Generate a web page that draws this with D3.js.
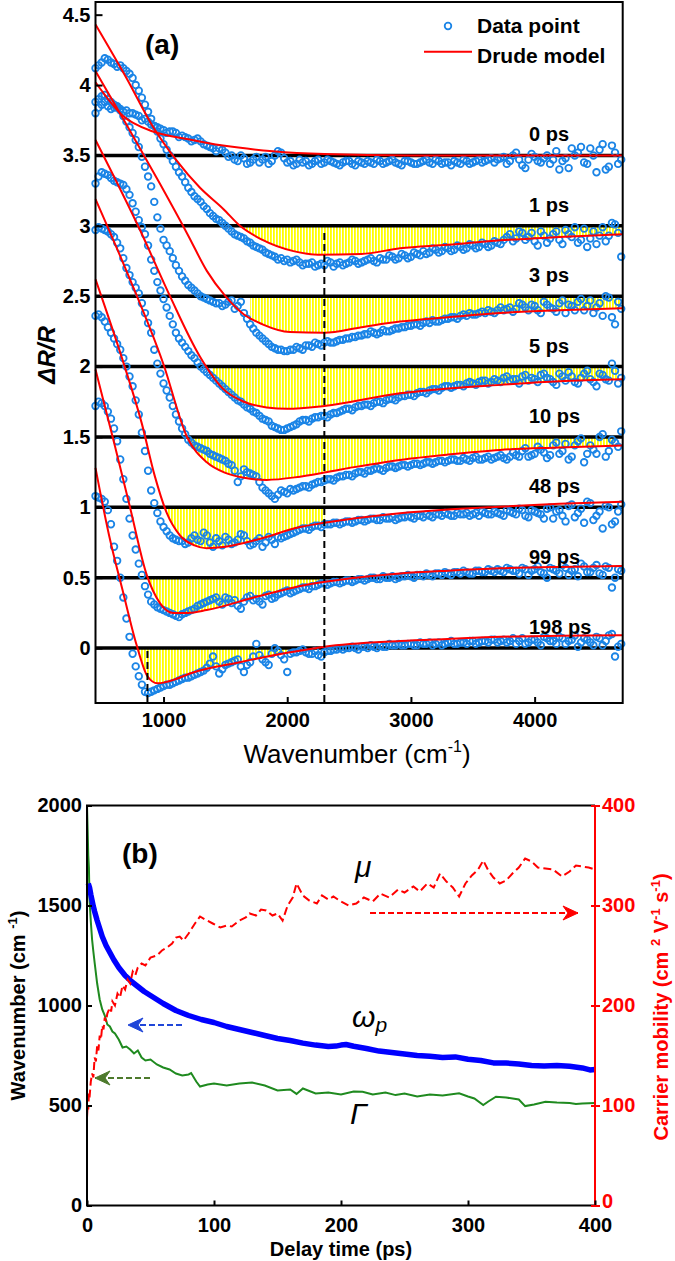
<!DOCTYPE html>
<html><head><meta charset="utf-8">
<script src="https://cdn.jsdelivr.net/npm/d3@7"></script>
<style>
body{margin:0;background:#fff}
svg{display:block}
text{font-family:"Liberation Sans",Arial,sans-serif}
</style>
</head><body>
<svg id="c" width="675" height="1261"></svg>
<script>
// ---------------- DATA: panel (a) ----------------
const wavenumbers = [450,500,550,600,650,700,750,800,850,900,950,1000,1050,1100,1150,1200,1250,1300,1350,1400,1450,1500,1550,1600,1650,1700,1750,1800,1850,1900,1950,2000,2050,2100,2150,2200,2250,2300,2350,2400,2450,2500,2550,2600,2650,2700,2750,2800,2850,2900,2950,3000,3050,3100,3150,3200,3250,3300,3350,3400,3450,3500,3550,3600,3650,3700,3750,3800,3850,3900,3950,4000,4050,4100,4150,4200,4250,4300,4350,4400,4450,4500,4550,4600,4650,4700];
const wavenumbersB = [475,525,575,625,675,725,775,825,875,925,975,1025,1075,1125,1175,1225,1275,1325,1375,1425,1475,1525,1575,1625,1675,1725,1775,1825,1875,1925,1975,2025,2075,2125,2175,2225,2275,2325,2375,2425,2475,2525,2575,2625,2675,2725,2775,2825,2875,2925,2975,3025,3075,3125,3175,3225,3275,3325,3375,3425,3475,3525,3575,3625,3675,3725,3775,3825,3875,3925,3975,4025,4075,4125,4175,4225,4275,4325,4375,4425,4475,4525,4575,4625,4675];
const traceLabels = ["0 ps","1 ps","3 ps","5 ps","10 ps","48 ps","99 ps","198 ps"];
const baselines = [3.5,3,2.5,2,1.5,1,0.5,0];

const data0ps = [3.80,3.86,3.85,3.84,3.83,3.82,3.80,3.78,3.76,3.72,
 3.70,3.68,3.67,3.66,3.64,3.62,3.61,3.60,3.57,3.55,
 3.55,3.52,3.50,3.46,3.48,3.45,3.49,3.47,3.44,3.50,
 3.52,3.45,3.43,3.47,3.46,3.44,3.47,3.45,3.46,3.44,
 3.45,3.46,3.43,3.45,3.46,3.44,3.46,3.45,3.47,3.44,
 3.46,3.45,3.44,3.46,3.45,3.47,3.44,3.45,3.46,3.44,
 3.46,3.45,3.47,3.46,3.48,3.47,3.49,3.46,3.52,3.43,
 3.47,3.49,3.45,3.50,3.47,3.40,3.48,3.55,3.52,3.45,
 3.55,3.38,3.58,3.42,3.52,3.47];
const data0psB = [3.84,3.88,3.83,3.85,3.81,3.80,3.79,3.75,3.74,3.71,
 3.69,3.66,3.67,3.63,3.63,3.60,3.62,3.58,3.56,3.53,
 3.54,3.49,3.47,3.50,3.44,3.47,3.45,3.49,3.46,3.53,
 3.48,3.46,3.44,3.45,3.43,3.46,3.44,3.47,3.45,3.43,
 3.46,3.44,3.46,3.44,3.45,3.47,3.44,3.46,3.45,3.43,
 3.46,3.44,3.45,3.47,3.44,3.46,3.45,3.43,3.45,3.47,
 3.44,3.46,3.45,3.47,3.45,3.48,3.44,3.50,3.47,3.41,
 3.51,3.46,3.48,3.44,3.53,3.46,3.41,3.50,3.56,3.44,
 3.50,3.54,3.40,3.57,3.44];
const data1ps = [4.12,4.16,4.18,4.15,4.14,4.10,4.05,3.96,3.86,3.76,
 3.67,3.58,3.50,3.42,3.35,3.27,3.21,3.17,3.12,3.07,
 3.04,3.00,2.96,2.93,2.91,2.88,2.85,2.83,2.80,2.78,
 2.77,2.76,2.75,2.74,2.73,2.74,2.72,2.72,2.74,2.73,
 2.72,2.74,2.75,2.74,2.76,2.75,2.77,2.76,2.78,2.77,
 2.79,2.78,2.80,2.82,2.81,2.83,2.82,2.84,2.83,2.85,
 2.84,2.86,2.85,2.87,2.86,2.88,2.90,2.94,2.91,2.95,
 2.92,2.89,2.96,2.88,2.94,2.90,2.97,2.92,2.88,2.98,
 2.91,2.87,2.99,2.93,3.01,2.78];
const data1psB = [4.14,4.19,4.16,4.13,4.12,4.08,4.00,3.91,3.81,3.71,
 3.62,3.54,3.46,3.38,3.31,3.24,3.19,3.14,3.09,3.05,
 3.02,2.98,2.94,2.92,2.89,2.86,2.84,2.81,2.79,2.76,
 2.75,2.74,2.76,2.72,2.73,2.71,2.73,2.75,2.71,2.74,
 2.73,2.76,2.73,2.75,2.77,2.74,2.76,2.79,2.76,2.80,
 2.77,2.81,2.79,2.80,2.84,2.81,2.85,2.82,2.86,2.83,
 2.87,2.84,2.88,2.85,2.89,2.87,2.92,2.89,2.96,2.90,
 2.95,2.86,2.93,2.91,2.96,2.87,2.94,2.99,2.90,2.85,
 2.96,2.93,2.89,3.02,2.95];
const data3ps = [3.88,3.92,3.90,3.86,3.82,3.74,3.66,3.56,3.42,3.28,
 3.06,2.90,2.82,2.72,2.64,2.58,2.54,2.50,2.48,2.46,
 2.45,2.44,2.47,2.43,2.38,2.30,2.24,2.20,2.16,2.13,
 2.12,2.11,2.12,2.13,2.15,2.14,2.16,2.17,2.17,2.18,
 2.19,2.20,2.21,2.22,2.23,2.24,2.24,2.25,2.26,2.27,
 2.28,2.29,2.30,2.31,2.31,2.32,2.33,2.34,2.35,2.36,
 2.36,2.37,2.38,2.38,2.39,2.40,2.40,2.42,2.41,2.44,
 2.40,2.43,2.38,2.44,2.41,2.45,2.38,2.43,2.46,2.40,
 2.47,2.42,2.36,2.49,2.30,2.41];
const data3psB = [3.90,3.93,3.88,3.84,3.78,3.70,3.61,3.49,3.35,3.17,
 2.98,2.86,2.77,2.68,2.61,2.56,2.52,2.49,2.47,2.45,
 2.43,2.46,2.41,2.46,2.34,2.27,2.22,2.18,2.14,2.12,
 2.11,2.12,2.14,2.12,2.15,2.17,2.15,2.18,2.17,2.19,
 2.20,2.21,2.22,2.23,2.25,2.23,2.26,2.25,2.27,2.28,
 2.29,2.30,2.29,2.32,2.33,2.32,2.34,2.35,2.34,2.37,
 2.38,2.37,2.39,2.40,2.38,2.42,2.41,2.39,2.45,2.42,
 2.44,2.40,2.46,2.42,2.39,2.47,2.44,2.40,2.48,2.43,
 2.38,2.45,2.50,2.35,2.46];
const data5ps = [3.30,3.38,3.36,3.32,3.30,3.26,3.16,3.04,2.94,2.76,
 2.60,2.48,2.36,2.24,2.17,2.11,2.06,2.00,1.96,1.92,
 1.88,1.84,1.80,1.76,1.73,1.70,1.67,1.63,1.61,1.57,
 1.55,1.56,1.58,1.61,1.62,1.63,1.64,1.65,1.66,1.67,
 1.69,1.70,1.71,1.72,1.73,1.74,1.75,1.76,1.77,1.78,
 1.79,1.80,1.81,1.82,1.83,1.84,1.85,1.86,1.86,1.87,
 1.88,1.88,1.89,1.90,1.89,1.90,1.92,1.90,1.91,1.93,
 1.90,1.91,1.94,1.92,1.89,1.95,1.90,1.93,1.88,1.95,
 1.91,1.86,1.94,1.90,1.97,1.92];
const data5psB = [3.35,3.37,3.34,3.31,3.29,3.22,3.10,2.99,2.86,2.68,
 2.54,2.42,2.30,2.20,2.14,2.08,2.03,1.98,1.94,1.90,
 1.86,1.82,1.78,1.75,1.71,1.68,1.65,1.62,1.58,1.56,
 1.55,1.57,1.59,1.62,1.61,1.64,1.65,1.64,1.67,1.68,
 1.70,1.69,1.72,1.73,1.72,1.75,1.74,1.77,1.76,1.79,
 1.80,1.79,1.82,1.81,1.84,1.83,1.86,1.85,1.87,1.86,
 1.89,1.87,1.90,1.88,1.91,1.89,1.93,1.91,1.88,1.94,
 1.92,1.89,1.95,1.91,1.87,1.93,1.96,1.89,1.92,1.97,
 1.89,1.95,1.91,2.02,1.88];
const data10ps = [2.97,2.98,2.96,2.92,2.84,2.70,2.60,2.52,2.38,2.24,
 2.02,1.88,1.78,1.66,1.56,1.48,1.44,1.42,1.40,1.37,
 1.35,1.33,1.30,1.18,1.27,1.24,1.22,1.14,1.10,1.06,
 1.12,1.10,1.12,1.14,1.15,1.16,1.18,1.19,1.20,1.21,
 1.22,1.23,1.24,1.25,1.26,1.27,1.27,1.28,1.29,1.29,
 1.30,1.30,1.31,1.31,1.32,1.32,1.33,1.33,1.34,1.33,
 1.34,1.35,1.34,1.35,1.34,1.36,1.35,1.36,1.37,1.40,
 1.36,1.38,1.41,1.35,1.44,1.38,1.45,1.36,1.47,1.32,
 1.44,1.38,1.52,1.40,1.46,1.54];
const data10psB = [2.99,2.97,2.94,2.88,2.77,2.65,2.56,2.45,2.31,2.12,
 1.95,1.83,1.72,1.61,1.52,1.46,1.43,1.41,1.38,1.36,
 1.34,1.31,1.26,1.22,1.25,1.23,1.18,1.12,1.08,1.09,
 1.11,1.13,1.13,1.15,1.14,1.17,1.18,1.20,1.19,1.22,
 1.23,1.22,1.25,1.24,1.26,1.28,1.26,1.29,1.28,1.30,
 1.29,1.31,1.30,1.32,1.31,1.33,1.32,1.34,1.33,1.35,
 1.33,1.36,1.34,1.36,1.35,1.37,1.34,1.39,1.36,1.42,
 1.37,1.43,1.39,1.37,1.46,1.40,1.34,1.44,1.49,1.38,
 1.41,1.50,1.36,1.48,1.43];
const data48ps = [2.36,2.35,2.28,2.20,2.12,2.00,1.86,1.66,1.40,1.12,
 0.96,0.86,0.80,0.77,0.76,0.75,0.80,0.76,0.80,0.72,
 0.76,0.79,0.74,0.77,0.80,0.73,0.76,0.72,0.79,0.74,
 0.78,0.80,0.82,0.84,0.85,0.86,0.87,0.88,0.88,0.89,
 0.89,0.90,0.90,0.91,0.91,0.92,0.91,0.92,0.93,0.92,
 0.93,0.93,0.94,0.93,0.94,0.95,0.94,0.95,0.94,0.95,
 0.96,0.95,0.94,0.96,0.95,0.96,0.94,0.97,0.95,0.98,
 0.93,0.97,0.95,0.99,0.92,0.98,0.90,1.02,0.96,0.89,
 1.03,0.94,0.85,1.00,0.90,1.02];
const data48psB = [2.37,2.32,2.24,2.16,2.06,1.93,1.76,1.53,1.26,1.03,
 0.90,0.83,0.78,0.76,0.74,0.78,0.77,0.82,0.75,0.78,
 0.73,0.77,0.75,0.81,0.76,0.74,0.78,0.75,0.77,0.79,
 0.79,0.81,0.83,0.85,0.84,0.87,0.86,0.88,0.89,0.88,
 0.90,0.89,0.91,0.90,0.92,0.91,0.93,0.92,0.91,0.93,
 0.94,0.92,0.94,0.95,0.93,0.95,0.96,0.94,0.96,0.95,
 0.94,0.96,0.97,0.95,0.97,0.95,0.98,0.96,0.99,0.94,
 0.98,0.96,0.92,1.00,0.97,0.94,1.01,0.93,0.99,1.04,
 0.91,0.97,1.01,0.88,0.97];
const data99ps = [1.72,1.74,1.68,1.56,1.34,1.06,0.80,0.60,0.44,0.33,
 0.29,0.27,0.25,0.23,0.24,0.26,0.28,0.31,0.33,0.35,
 0.33,0.36,0.32,0.30,0.33,0.37,0.35,0.31,0.38,0.36,
 0.39,0.41,0.40,0.42,0.43,0.44,0.45,0.46,0.46,0.47,
 0.47,0.48,0.48,0.49,0.49,0.50,0.49,0.50,0.51,0.50,
 0.51,0.51,0.52,0.51,0.52,0.53,0.52,0.53,0.54,0.53,
 0.54,0.53,0.55,0.54,0.55,0.56,0.54,0.56,0.55,0.57,
 0.52,0.56,0.54,0.50,0.56,0.53,0.57,0.55,0.51,0.58,
 0.54,0.59,0.52,0.57,0.50,0.55];
const data99psB = [1.75,1.72,1.63,1.47,1.20,0.92,0.70,0.52,0.38,0.31,
 0.28,0.26,0.24,0.22,0.25,0.27,0.30,0.32,0.34,0.36,
 0.31,0.35,0.34,0.28,0.36,0.34,0.33,0.37,0.35,0.38,
 0.40,0.39,0.41,0.43,0.42,0.44,0.46,0.45,0.47,0.46,
 0.48,0.47,0.49,0.48,0.50,0.49,0.51,0.50,0.49,0.51,
 0.52,0.50,0.52,0.53,0.51,0.53,0.54,0.52,0.54,0.55,
 0.53,0.55,0.54,0.56,0.54,0.55,0.57,0.55,0.53,0.56,
 0.55,0.58,0.53,0.57,0.55,0.59,0.52,0.56,0.60,0.54,
 0.57,0.53,0.58,0.43,0.56];
const data198ps = [1.08,1.06,0.98,0.72,0.50,0.21,-0.04,-0.20,-0.31,-0.31,
 -0.29,-0.27,-0.26,-0.24,-0.22,-0.21,-0.19,-0.17,-0.14,-0.06,
 -0.18,-0.12,-0.10,-0.08,-0.17,-0.10,0.03,-0.08,-0.12,0.00,
 -0.05,-0.17,-0.03,-0.02,-0.03,-0.04,-0.05,-0.03,-0.02,-0.01,
 -0.01,0.00,0.00,0.01,0.00,0.01,0.02,0.01,0.02,0.03,
 0.02,0.03,0.02,0.03,0.04,0.03,0.02,0.04,0.03,0.04,
 0.03,0.05,0.04,0.05,0.06,0.04,0.06,0.05,0.03,0.07,
 0.04,0.06,0.02,0.07,0.05,0.08,0.03,0.06,0.01,0.07,
 0.04,0.08,0.02,0.09,-0.06,0.03];
const data198psB = [1.07,1.04,0.88,0.62,0.36,0.08,-0.13,-0.26,-0.32,-0.30,
 -0.28,-0.26,-0.25,-0.23,-0.21,-0.20,-0.18,-0.16,-0.11,-0.13,
 -0.15,-0.11,-0.09,-0.13,-0.12,-0.06,-0.05,-0.10,-0.04,-0.02,
 -0.08,-0.04,-0.03,-0.01,-0.04,-0.02,-0.06,-0.02,-0.01,0.00,
 0.00,0.01,-0.01,0.01,0.02,0.00,0.01,0.03,0.02,0.02,
 0.03,0.02,0.04,0.03,0.02,0.04,0.03,0.05,0.03,0.04,
 0.05,0.03,0.05,0.04,0.06,0.05,0.04,0.07,0.05,0.03,
 0.06,0.04,0.08,0.05,0.03,0.07,0.05,0.09,0.04,0.06,
 0.02,0.07,0.05,0.10,0.01];

// Drude model fits: [wavenumber, ΔR/R]
const fit0ps = [[450,4.02],[673,3.78],[915,3.67],[1200,3.615],[1481,3.57],[1885,3.53],[2300,3.51],[3000,3.50],[4712,3.50]];
const fit1ps = [[450,4.43],[700,4.05],[917,3.70],[1100,3.47],[1295,3.27],[1483,3.12],[1618,3.00],[1800,2.90],[2050,2.82],[2250,2.795],[2600,2.80],[2912,2.84],[3300,2.865],[3721,2.897],[4200,2.92],[4712,2.94]];
const fit3ps = [[450,4.10],[700,3.72],[970,3.30],[1200,2.93],[1350,2.68],[1500,2.50],[1650,2.37],[1800,2.30],[2022,2.245],[2300,2.24],[2600,2.28],[2912,2.32],[3300,2.35],[3721,2.38],[4200,2.40],[4712,2.415]];
const fit5ps = [[450,3.61],[810,2.97],[1052,2.50],[1295,2.07],[1483,1.84],[1650,1.75],[1834,1.71],[2000,1.70],[2300,1.72],[2912,1.81],[3300,1.845],[3721,1.87],[4200,1.895],[4712,1.91]];
const fit10ps = [[450,3.19],[700,2.68],[998,2.02],[1190,1.50],[1350,1.32],[1500,1.245],[1650,1.21],[1834,1.195],[2104,1.218],[2500,1.28],[2912,1.337],[3300,1.375],[3721,1.408],[4200,1.425],[4712,1.44]];
const fit48ps = [[450,2.62],[675,2.03],[823,1.60],[930,1.22],[1026,0.96],[1133,0.80],[1250,0.73],[1349,0.71],[1500,0.72],[1753,0.77],[2104,0.86],[2300,0.89],[2912,0.958],[3300,0.985],[3721,1.005],[4200,1.025],[4712,1.04]];
const fit99ps = [[450,1.98],[600,1.46],[729,1.00],[864,0.52],[971,0.32],[1079,0.25],[1200,0.25],[1349,0.27],[1753,0.365],[2158,0.45],[2500,0.495],[2912,0.53],[3300,0.55],[3721,0.567],[4200,0.577],[4712,0.583]];
const fit198ps = [[450,1.28],[560,0.80],[675,0.39],[783,0.02],[870,-0.20],[950,-0.25],[1100,-0.22],[1214,-0.18],[1618,-0.10],[2022,-0.03],[2300,0.01],[2912,0.05],[3300,0.065],[3721,0.08],[4200,0.087],[4712,0.092]];

// shaded (yellow) wavenumber ranges per trace
const yellowStart = [null,1618,1700,1400,1190,980,870,800];
const yellowEnd   = [null,4700,4700,4680,4650,2300,2300,2000];
const guideWavenumbers = [2300, 870];
const guideTop = [2.97, 0];

const yTicksA = [0,0.5,1,1.5,2,2.5,3,3.5,4,4.5];
const xTicksA = [1000,2000,3000,4000];

// ---------------- DATA: panel (b) ----------------
const omegaP = [[1,1610],[2,1590],[3,1555],[4,1525],[5,1495],[6,1470],[8,1425],[10,1385],[12,1345],[15,1300],[18,1265],[21,1230],[25,1190],[30,1150],[35,1120],[40,1095],[45,1070],[50,1050],[55,1030],[60,1010],[70,975],[80,950],[90,930],[100,915],[110,895],[120,880],[130,865],[140,850],[150,835],[160,825],[170,812],[180,802],[190,795],[196,797],[200,802],[204,805],[210,796],[220,785],[230,772],[240,765],[250,757],[260,750],[270,746],[280,740],[290,743],[300,731],[310,725],[320,713],[330,712],[340,708],[350,700],[360,697],[370,700],[380,696],[390,688],[396,678],[400,680]];
const gamma = [[0,2000],[0.5,1880],[1,1750],[1.5,1690],[2,1530],[3,1420],[4,1330],[5,1270],[6,1215],[8,1110],[10,1030],[12,980],[14,950],[16,905],[18,895],[20,870],[22,860],[25,830],[28,790],[31,795],[34,780],[37,760],[40,775],[43,740],[46,725],[50,730],[55,705],[60,690],[65,680],[70,660],[75,650],[80,655],[82,662],[86,620],[89,595],[95,605],[100,610],[110,600],[120,610],[130,615],[140,600],[150,575],[160,580],[165,558],[170,585],[180,560],[190,565],[200,555],[210,570],[217,569],[225,555],[235,565],[243,552],[250,560],[260,545],[270,555],[280,550],[293,561],[300,545],[305,535],[312,502],[316,520],[322,544],[330,540],[340,530],[345,497],[352,505],[361,519],[370,515],[380,512],[385,507],[390,510],[400,512]];
const mobility = [[0,88],[0.5,100],[1,96],[1.5,112],[2,108],[3,124],[4,132],[5,128],[6,148],[7,144],[8,160],[9,155],[10,170],[11,166],[12,180],[13,176],[14,188],[15,184],[16,192],[18,198],[19,194],[20,204],[22,200],[24,212],[26,208],[28,220],[30,216],[32,226],[34,222],[36,234],[38,230],[40,238],[43,242],[46,240],[50,248],[55,250],[59,255],[63,258],[67,262],[70,268],[73,269],[76,265],[80,272],[85,282],[89,289],[93,286],[99,282],[105,278],[110,280],[114,279],[120,285],[125,288],[128,292],[133,290],[137,296],[141,295],[146,290],[150,292],[154,285],[158,300],[162,308],[165,322],[170,310],[175,305],[181,302],[185,310],[190,306],[194,309],[200,304],[206,300],[212,302],[218,308],[225,304],[231,312],[238,308],[245,316],[250,313],[257,319],[262,314],[268,322],[273,318],[278,332],[283,324],[288,318],[293,309],[298,322],[303,330],[308,336],[312,345],[316,335],[320,328],[325,322],[330,325],[335,332],[340,338],[345,347],[350,344],[355,338],[361,337],[367,336],[374,329],[380,334],[385,340],[390,339],[395,338],[400,336]];
const xTicksB = [0,100,200,300,400];
const yTicksB = [0,500,1000,1500,2000];
const yTicksR = [0,100,200,300,400];

// ---------------- DRAW ----------------
const svg = d3.select("#c");
const defs = svg.append("defs");
const FONT = '"Liberation Sans",Arial,sans-serif';
const BLUE = "#1a84e6";

const pat = defs.append("pattern").attr("id","yel").attr("patternUnits","userSpaceOnUse")
  .attr("width",3).attr("height",6);
pat.append("rect").attr("x",0).attr("y",0).attr("width",1.8).attr("height",6).attr("fill","#ffff00");

// panel (a)
const xA = d3.scaleLinear().domain([450,4712]).range([95.5,622.7]);
const yA = d3.scaleLinear().domain([-0.39,4.59]).range([703,2]);
const gA = svg.append("g");

const dataSets = [data0ps,data1ps,data3ps,data5ps,data10ps,data48ps,data99ps,data198ps];
const dataSetsB = [data0psB,data1psB,data3psB,data5psB,data10psB,data48psB,data99psB,data198psB];
const fitSets = [fit0ps,fit1ps,fit3ps,fit5ps,fit10ps,fit48ps,fit99ps,fit198ps];

// yellow shading
dataSets.forEach((d,i)=>{
  if(yellowStart[i]==null) return;
  const id="clipY"+i;
  defs.append("clipPath").attr("id",id).append("rect")
    .attr("x",xA(yellowStart[i])).attr("width",xA(yellowEnd[i])-xA(yellowStart[i]))
    .attr("y",yA(baselines[i])).attr("height",yA(-0.39)-yA(baselines[i]));
  gA.append("path").datum(fitSets[i]).attr("clip-path",`url(#${id})`)
    .attr("fill","url(#yel)")
    .attr("d",d3.area().x(p=>xA(p[0])).y0(yA(baselines[i])).y1(p=>yA(p[1])).curve(d3.curveMonotoneX));
});

// baselines
gA.selectAll("line.base").data(baselines).join("line").attr("class","base")
  .attr("x1",xA(450)).attr("x2",xA(4712))
  .attr("y1",d=>yA(d)).attr("y2",d=>yA(d))
  .attr("stroke","#000").attr("stroke-width",3.5);

// data points
dataSets.forEach((d,i)=>{
  const pts = wavenumbers.map((w,j)=>[w,d[j]])
    .concat(wavenumbersB.map((w,j)=>[w,dataSetsB[i][j]]));
  gA.append("g").selectAll("circle").data(pts).join("circle")
    .attr("cx",p=>xA(p[0])).attr("cy",p=>yA(p[1])).attr("r",3.3)
    .attr("fill","none").attr("stroke",BLUE).attr("stroke-width",1.8);
});

// fits
const fitLine = d3.line().x(p=>xA(p[0])).y(p=>yA(p[1])).curve(d3.curveMonotoneX);
fitSets.forEach(f=>{
  gA.append("path").datum(f).attr("d",fitLine).attr("fill","none")
    .attr("stroke","#ff0000").attr("stroke-width",2);
});

// dashed guides
guideWavenumbers.forEach((w,i)=>{
  gA.append("line").attr("x1",xA(w)).attr("x2",xA(w))
    .attr("y1",yA(guideTop[i])+3).attr("y2",yA(-0.39))
    .attr("stroke","#000").attr("stroke-width",2).attr("stroke-dasharray","7,4");
});

// trace labels
gA.selectAll("text.lab").data(traceLabels).join("text").attr("class","lab")
  .attr("x",529).attr("y",(d,i)=>yA(baselines[i])-14)
  .attr("font-size",20).attr("font-weight","bold").attr("font-family",FONT).text(d=>d);

// frame
gA.append("rect").attr("x",95.5).attr("y",2).attr("width",622.7-95.5).attr("height",701)
  .attr("fill","none").attr("stroke","#000").attr("stroke-width",2);

// axes
const axAL = gA.append("g").attr("transform","translate(95.5,0)")
  .call(d3.axisLeft(yA).tickValues(yTicksA).tickSize(-7).tickPadding(5).tickFormat(d=>String(d)));
const axAB = gA.append("g").attr("transform","translate(0,703)")
  .call(d3.axisBottom(xA).tickValues(xTicksA).tickSize(-6).tickPadding(10).tickFormat(d=>String(d)));
[axAL,axAB].forEach(a=>{
  a.select(".domain").remove();
  a.selectAll("line").attr("stroke","#000").attr("stroke-width",2);
  a.selectAll("text").attr("font-size",20).attr("font-weight","bold").attr("font-family",FONT).attr("fill","#000");
});

// axis labels (a)
const xlabA = gA.append("text").attr("x",357).attr("y",763).attr("text-anchor","middle")
  .attr("font-size",26).attr("font-family",FONT);
xlabA.append("tspan").text("Wavenumber (cm");
xlabA.append("tspan").attr("dy",-11).attr("font-size",16).text("-1");
xlabA.append("tspan").attr("dy",11).text(")");

gA.append("text").attr("transform","translate(55,355) rotate(-90)").attr("text-anchor","middle")
  .attr("font-size",24).attr("font-weight","bold").attr("font-style","italic").attr("font-family",FONT)
  .text("ΔR/R");

gA.append("text").attr("x",145).attr("y",54).attr("font-size",28).attr("font-weight","bold")
  .attr("font-family",FONT).text("(a)");

// legend
gA.append("circle").attr("cx",448).attr("cy",26).attr("r",3.3).attr("fill","none")
  .attr("stroke",BLUE).attr("stroke-width",1.8);
gA.append("line").attr("x1",424).attr("x2",472).attr("y1",51.7).attr("y2",51.7)
  .attr("stroke","#ff0000").attr("stroke-width",2);
gA.append("text").attr("x",477).attr("y",33).attr("font-size",21).attr("font-weight","bold")
  .attr("font-family",FONT).text("Data point");
gA.append("text").attr("x",477).attr("y",62.5).attr("font-size",21).attr("font-weight","bold")
  .attr("font-family",FONT).text("Drude model");

// panel (b)
const xB = d3.scaleLinear().domain([0,400]).range([87,595]);
const yB = d3.scaleLinear().domain([0,2000]).range([1205.5,805.5]);
const yR = d3.scaleLinear().domain([0,400]).range([1205.5,805.5]);
const gB = svg.append("g");

gB.append("path").datum(gamma).attr("fill","none").attr("stroke","#1f8a1f").attr("stroke-width",2)
  .attr("d",d3.line().x(p=>xB(p[0])).y(p=>yB(p[1])));
gB.append("path").datum(omegaP).attr("fill","none").attr("stroke","#0000ff").attr("stroke-width",5.5)
  .attr("stroke-linejoin","round")
  .attr("d",d3.line().x(p=>xB(p[0])).y(p=>yB(p[1])));
gB.append("path").datum(mobility).attr("fill","none").attr("stroke","#ff0000").attr("stroke-width",2)
  .attr("stroke-dasharray","8,4")
  .attr("d",d3.line().x(p=>xB(p[0])).y(p=>yR(p[1])));

// frame
gB.append("path").attr("d","M595,805.5 H87 V1205.5 H595").attr("fill","none")
  .attr("stroke","#000").attr("stroke-width",2);
gB.append("line").attr("x1",595).attr("x2",595).attr("y1",805.5).attr("y2",1205.5)
  .attr("stroke","#ff0000").attr("stroke-width",2);

const axBL = gB.append("g").attr("transform","translate(87,0)")
  .call(d3.axisLeft(yB).tickValues(yTicksB).tickSize(-5).tickPadding(5).tickFormat(d=>String(d)));
const axBB = gB.append("g").attr("transform","translate(0,1205.5)")
  .call(d3.axisBottom(xB).tickValues(xTicksB).tickSize(-5).tickPadding(12).tickFormat(d=>String(d)));
const axBR = gB.append("g").attr("transform","translate(595,0)")
  .call(d3.axisRight(yR).tickValues(yTicksR).tickSize(5).tickPadding(2).tickFormat(d=>String(d)));
const axBR2 = gB.append("g").attr("transform","translate(595,0)")
  .call(d3.axisRight(yR).tickValues(yTicksR).tickSize(-4).tickFormat(""));
[axBL,axBB,axBR,axBR2].forEach((a,i)=>{
  a.select(".domain").remove();
  const col = i>=2 ? "#ff0000" : "#000";
  a.selectAll("line").attr("stroke",col).attr("stroke-width",2);
  a.selectAll("text").attr("font-size",20).attr("font-weight","bold").attr("font-family",FONT).attr("fill",col);
});
// lift the red "0" slightly so it clears the "400" below it
axBR.selectAll(".tick").filter(d=>d===0).select("text").attr("dy","0.1em");

// labels (b)
gB.append("text").attr("x",341).attr("y",1256).attr("text-anchor","middle").attr("font-size",20)
  .attr("font-weight","bold").attr("font-family",FONT).text("Delay time (ps)");
const ylabB = gB.append("text").attr("transform","translate(25,1005.5) rotate(-90)").attr("text-anchor","middle")
  .attr("font-size",20).attr("font-weight","bold").attr("font-family",FONT);
ylabB.append("tspan").text("Wavenumber (cm ");
ylabB.append("tspan").attr("dy",-8).attr("font-size",13).text("-1");
ylabB.append("tspan").attr("dy",8).text(")");
const yrlab = gB.append("text").attr("transform","translate(668,1007) rotate(-90)").attr("text-anchor","middle")
  .attr("font-size",20).attr("font-weight","bold").attr("font-family",FONT).attr("fill","#ff0000");
yrlab.append("tspan").text("Carrier mobility (cm ");
yrlab.append("tspan").attr("dy",-8).attr("font-size",13).text("2");
yrlab.append("tspan").attr("dy",8).text(" V");
yrlab.append("tspan").attr("dy",-8).attr("font-size",13).text("-1");
yrlab.append("tspan").attr("dy",8).text(" s");
yrlab.append("tspan").attr("dy",-8).attr("font-size",13).text("-1");
yrlab.append("tspan").attr("dy",8).text(")");

gB.append("text").attr("x",122).attr("y",863).attr("font-size",28).attr("font-weight","bold")
  .attr("font-family",FONT).text("(b)");

const SERIF = '"Liberation Serif","Times New Roman",serif';
gB.append("text").attr("x",355).attr("y",877).attr("font-size",30).attr("font-style","italic")
  .attr("font-family",SERIF).text("μ");
const wp = gB.append("text").attr("x",352).attr("y",1027).attr("font-size",30).attr("font-style","italic")
  .attr("font-family",SERIF);
wp.append("tspan").text("ω");
wp.append("tspan").attr("dy",5).attr("font-size",21).text("p");
gB.append("text").attr("x",350).attr("y",1124).attr("font-size",30).attr("font-style","italic")
  .attr("font-family",SERIF).text("Γ");

// arrows
function arrow(x1,x2,y,color){
  gB.append("line").attr("x1",x1).attr("x2",x2).attr("y1",y).attr("y2",y)
    .attr("stroke",color).attr("stroke-width",2).attr("stroke-dasharray","6,3");
  const dir = x2>x1 ? 1 : -1;
  gB.append("path")
    .attr("d",`M${x2},${y} L${x2-dir*15},${y-7} L${x2-dir*10},${y} L${x2-dir*15},${y+7} Z`)
    .attr("fill",color).attr("stroke",color).attr("stroke-width",1);
}
arrow(370,578,913,"#ff0000");
arrow(182,128,1025,"#2046d8");
arrow(150,95,1078,"#4d7a2c");
</script>
</body></html>
